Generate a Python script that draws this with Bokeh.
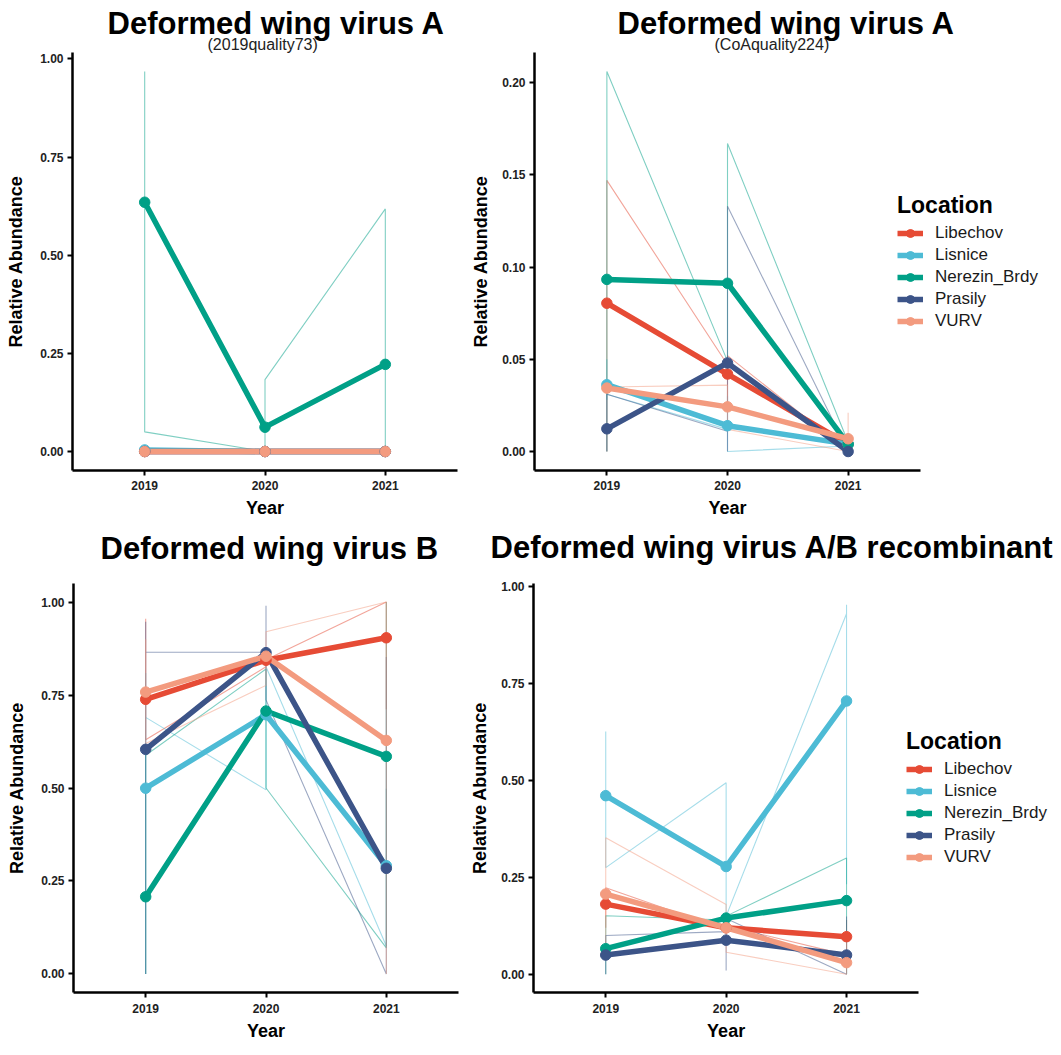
from bokeh.plotting import figure
from bokeh.layouts import row, column
from bokeh.models import (Title, Legend, LegendItem, FixedTicker, NumeralTickFormatter, Range1d,
                          LinearAxis)
from bokeh.embed import file_html
from bokeh.resources import INLINE

FONT = "Liberation Sans"
YEARS = [2019, 2020, 2021]
LOCATIONS = ["Libechov", "Lisnice", "Nerezin_Brdy", "Prasily", "VURV"]
COLORS = ["#E64B35", "#4DBBD5", "#00A087", "#3C5488", "#F39B7F"]

# ---- Panel 1: Deformed wing virus A (2019quality73) ----
A73_MEAN = {
    "Libechov": [0.0, 0.0, 0.0],
    "Lisnice": [0.004, 0.0, 0.0],
    "Nerezin_Brdy": [0.635, 0.062, 0.222],
    "Prasily": [0.0, 0.0, 0.0],
    "VURV": [0.0, 0.0, 0.0],
}
A73_SAMPLES = {
    "Libechov": [[0.0, 0.0], [0.0, 0.0], [0.0, 0.0]],
    "Lisnice": [[0.008, 0.0], [0.0, 0.0], [0.0, 0.0]],
    "Nerezin_Brdy": [[0.968, 0.887, 0.05], [0.0, 0.003, 0.183], [0.618, 0.048, 0.0]],
    "Prasily": [[0.0, 0.0], [0.0, 0.0], [0.0, 0.0]],
    "VURV": [[0.0, 0.0], [0.0, 0.0], [0.0, 0.0]],
}

# ---- Panel 2: Deformed wing virus A (CoAquality224) ----
A224_MEAN = {
    "Libechov": [0.0804, 0.042, 0.004],
    "Lisnice": [0.0362, 0.014, 0.004],
    "Nerezin_Brdy": [0.0933, 0.0912, 0.004],
    "Prasily": [0.0123, 0.048, 0.0],
    "VURV": [0.0344, 0.0242, 0.0069],
}
A224_SAMPLES = {
    "Libechov": [[0.094, 0.0, 0.147], [0.047, 0.027, 0.052], [0.0, 0.006, 0.006]],
    "Lisnice": [[0.05, 0.028, 0.031], [0.012, 0.03, 0.0], [0.003, 0.005, 0.004]],
    "Nerezin_Brdy": [[0.074, 0.0, 0.206], [0.049, 0.057, 0.167], [0.005, 0.003, 0.004]],
    "Prasily": [[0.0, 0.006, 0.031], [0.011, 0.0, 0.133], [0.0, 0.0, 0.0]],
    "VURV": [[0.033, 0.035, 0.035], [0.036, 0.025, 0.012], [0.0, 0.021, 0.0]],
}

# ---- Panel 3: Deformed wing virus B ----
B_MEAN = {
    "Libechov": [0.7385, 0.8437, 0.904],
    "Lisnice": [0.4995, 0.697, 0.291],
    "Nerezin_Brdy": [0.2075, 0.707, 0.585],
    "Prasily": [0.604, 0.864, 0.284],
    "VURV": [0.758, 0.8545, 0.628],
}
B_SAMPLES = {
    "Libechov": [[0.63, 0.955, 0.63], [0.826, 0.86, 0.845], [1.0, 0.712, 1.0]],
    "Lisnice": [[0.0, 0.809, 0.69], [0.495, 0.77, 0.826], [0.075, 0.498, 0.3]],
    "Nerezin_Brdy": [[0.0, 0.034, 0.588], [0.82, 0.80, 0.5], [0.07, 0.685, 1.0]],
    "Prasily": [[0.0, 0.947, 0.865], [0.865, 0.99, 0.737], [0.0, 0.852, 0.0]],
    "VURV": [[0.9, 0.755, 0.62], [0.776, 0.867, 0.92], [1.0, 0.884, 0.0]],
}

# ---- Panel 4: Deformed wing virus A/B recombinant ----
AB_MEAN = {
    "Libechov": [0.181, 0.12, 0.097],
    "Lisnice": [0.4607, 0.278, 0.705],
    "Nerezin_Brdy": [0.066, 0.145, 0.19],
    "Prasily": [0.0496, 0.088, 0.0496],
    "VURV": [0.207, 0.12, 0.030],
}
AB_SAMPLES = {
    "Libechov": [[0.12, 0.2, 0.223], [0.115, 0.12, 0.125], [0.05, 0.14, 0.1]],
    "Lisnice": [[0.481, 0.626, 0.275], [0.494, 0.19, 0.15], [0.93, 0.953, 0.232]],
    "Nerezin_Brdy": [[0.0, 0.047, 0.151], [0.14, 0.145, 0.15], [0.3, 0.27, 0.0]],
    "Prasily": [[0.0, 0.049, 0.1], [0.11, 0.01, 0.144], [0.0, 0.149, 0.0]],
    "VURV": [[0.05, 0.219, 0.352], [0.18, 0.123, 0.057], [0.0, 0.09, 0.0]],
}

Y_TICKS_UNIT = [0.0, 0.25, 0.5, 0.75, 1.0]
Y_TICKS_SMALL = [0.0, 0.05, 0.10, 0.15, 0.20]
X_AXIS_BOUNDS = (2018.4, 2021.6)
X_LABEL = "Year"
Y_LABEL = "Relative Abundance"


def make_title(text, offset, size, bold, standoff, fallback_standoff=0):
    kw = dict(text=text, align="left", offset=offset, vertical_align="bottom",
              text_font=FONT, text_font_size=size,
              text_font_style="bold" if bold else "normal",
              text_color="black" if bold else "#222222")
    try:
        return Title(standoff=standoff, **kw)
    except Exception:
        return Title(standoff=fallback_standoff, **kw)


def make_panel(means, samples, width, height, borders, x_end, yr, yticks, titles,
               legend_pos=None, ylab_standoff=10, xstand=(5, 5)):
    bl, br, bt, bb = borders
    wide = legend_pos is not None
    p = figure(width=width, height=height, output_backend="svg", toolbar_location=None,
               title=None,
               x_range=Range1d(X_AXIS_BOUNDS[0], x_end), y_range=Range1d(*yr),
               min_border_left=bl, min_border_right=br, min_border_top=bt, min_border_bottom=bb,
               tools="")
    p.outline_line_color = None
    p.xgrid.visible = False
    p.ygrid.visible = False
    p.background_fill_color = "white"
    p.border_fill_color = "white"

    # thin lines through individual samples
    for loc, col in zip(LOCATIONS, COLORS):
        xs, ys = [], []
        for yv, vals in zip(YEARS, samples[loc]):
            xs += [yv] * len(vals)
            ys += vals
        p.line(xs, ys, line_color=col, line_width=1.1, line_alpha=0.5)

    line_rs, pt_rs = [], []
    for loc, col in zip(LOCATIONS, COLORS):
        line_rs.append(p.line(YEARS, means[loc], line_color=col, line_width=5.5,
                              line_join="round"))
    for loc, col in zip(LOCATIONS, COLORS):
        pt_rs.append(p.scatter(YEARS, means[loc], size=10.5, marker="circle",
                               fill_color=col, line_color=col))

    p.xaxis.ticker = FixedTicker(ticks=YEARS)
    p.xaxis.bounds = X_AXIS_BOUNDS
    p.yaxis.ticker = FixedTicker(ticks=yticks)
    p.yaxis.formatter = NumeralTickFormatter(format="0.00")
    if not wide:
        p.xaxis.axis_label = X_LABEL
    p.yaxis.axis_label = Y_LABEL
    for ax in (p.xaxis[0], p.yaxis[0]):
        ax.axis_line_width = 2.5
        ax.axis_line_color = "black"
        ax.major_tick_line_width = 2
        ax.major_tick_line_color = "black"
        ax.major_tick_out = 5
        ax.major_tick_in = 0
        ax.minor_tick_line_color = None
        ax.major_label_text_font = FONT
        ax.major_label_text_font_size = "12px"
        ax.major_label_text_font_style = "bold"
        ax.major_label_text_color = "#222222"
        ax.major_label_standoff = 4
        ax.axis_label_text_font = FONT
        ax.axis_label_text_font_size = "18px"
        ax.axis_label_text_font_style = "bold"
        ax.axis_label_text_color = "black"
    p.xaxis[0].major_label_standoff = xstand[0]
    p.xaxis[0].axis_label_standoff = xstand[1]
    p.yaxis[0].axis_label_standoff = ylab_standoff

    if wide:
        # frame runs on under the legend: centre the "Year" caption on the bounded x axis
        cap = LinearAxis(ticker=FixedTicker(ticks=[YEARS[1]]),
                         major_label_overrides={YEARS[1]: X_LABEL},
                         axis_line_color=None, major_tick_line_color=None,
                         minor_tick_line_color=None, major_tick_out=0, major_tick_in=0,
                         major_label_standoff=xstand[1],
                         major_label_text_font=FONT, major_label_text_font_size="18px",
                         major_label_text_font_style="bold", major_label_text_color="black")
        p.add_layout(cap, "below")

    # titles stacked from the frame upward
    for t in titles:
        p.add_layout(t, "above")

    if wide:
        items = [LegendItem(label=loc, renderers=[lr, pr])
                 for loc, lr, pr in zip(LOCATIONS, line_rs, pt_rs)]
        lg = Legend(items=items, location=legend_pos, title="Location",
                    title_text_font=FONT, title_text_font_size="23px", title_text_font_style="bold",
                    title_text_color="black", title_standoff=4,
                    label_text_font=FONT, label_text_font_size="17px", label_text_color="#1a1a1a",
                    glyph_width=26, glyph_height=20, label_height=20, spacing=2,
                    label_standoff=12, padding=0, margin=0,
                    border_line_color=None, background_fill_alpha=0)
        p.add_layout(lg)
    return p


TITLE_A = "Deformed wing virus A"
TITLE_B = "Deformed wing virus B"
TITLE_AB = "Deformed wing virus A/B recombinant"

# px per year unit = 386 / 3.2
X_END_TR = X_AXIS_BOUNDS[0] + 527 / 120.625
X_END_BR = X_AXIS_BOUNDS[0] + 529 / 120.625

p1 = make_panel(A73_MEAN, A73_SAMPLES, 467, 520, (72, 10, 52, 49), X_AXIS_BOUNDS[1],
                (-0.0484, 1.0165), Y_TICKS_UNIT,
                [make_title("(2019quality73)", 135, "16px", False, 0),
                 make_title(TITLE_A, 35, "31px", True, -15)],
                ylab_standoff=11, xstand=(5, 5))
p2 = make_panel(A224_MEAN, A224_SAMPLES, 594, 520, (67, 0, 52, 49), X_END_TR,
                (-0.0103, 0.2163), Y_TICKS_SMALL,
                [make_title("(CoAquality224)", 180, "16px", False, 0),
                 make_title(TITLE_A, 83, "31px", True, -15)],
                legend_pos=(363, 139), ylab_standoff=8, xstand=(5, 5))
p3 = make_panel(B_MEAN, B_SAMPLES, 467, 535, (73, 9, 63, 63), X_AXIS_BOUNDS[1],
                (-0.05, 1.05), Y_TICKS_UNIT,
                [make_title(" ", 0, "14px", False, 0),
                 make_title(TITLE_B, 27, "31px", True, 0)],
                ylab_standoff=11, xstand=(6, 5))
p4 = make_panel(AB_MEAN, AB_SAMPLES, 594, 535, (65, 0, 62, 62), X_END_BR,
                (-0.047, 1.008), Y_TICKS_UNIT,
                [make_title(" ", 0, "15px", False, 0),
                 make_title(TITLE_AB, -43, "31px", True, 0)],
                legend_pos=(373, 125), ylab_standoff=8, xstand=(6, 5))

layout = column(row(p1, p2), row(p3, p4))
open("out.html", "w").write(file_html(layout, INLINE))
